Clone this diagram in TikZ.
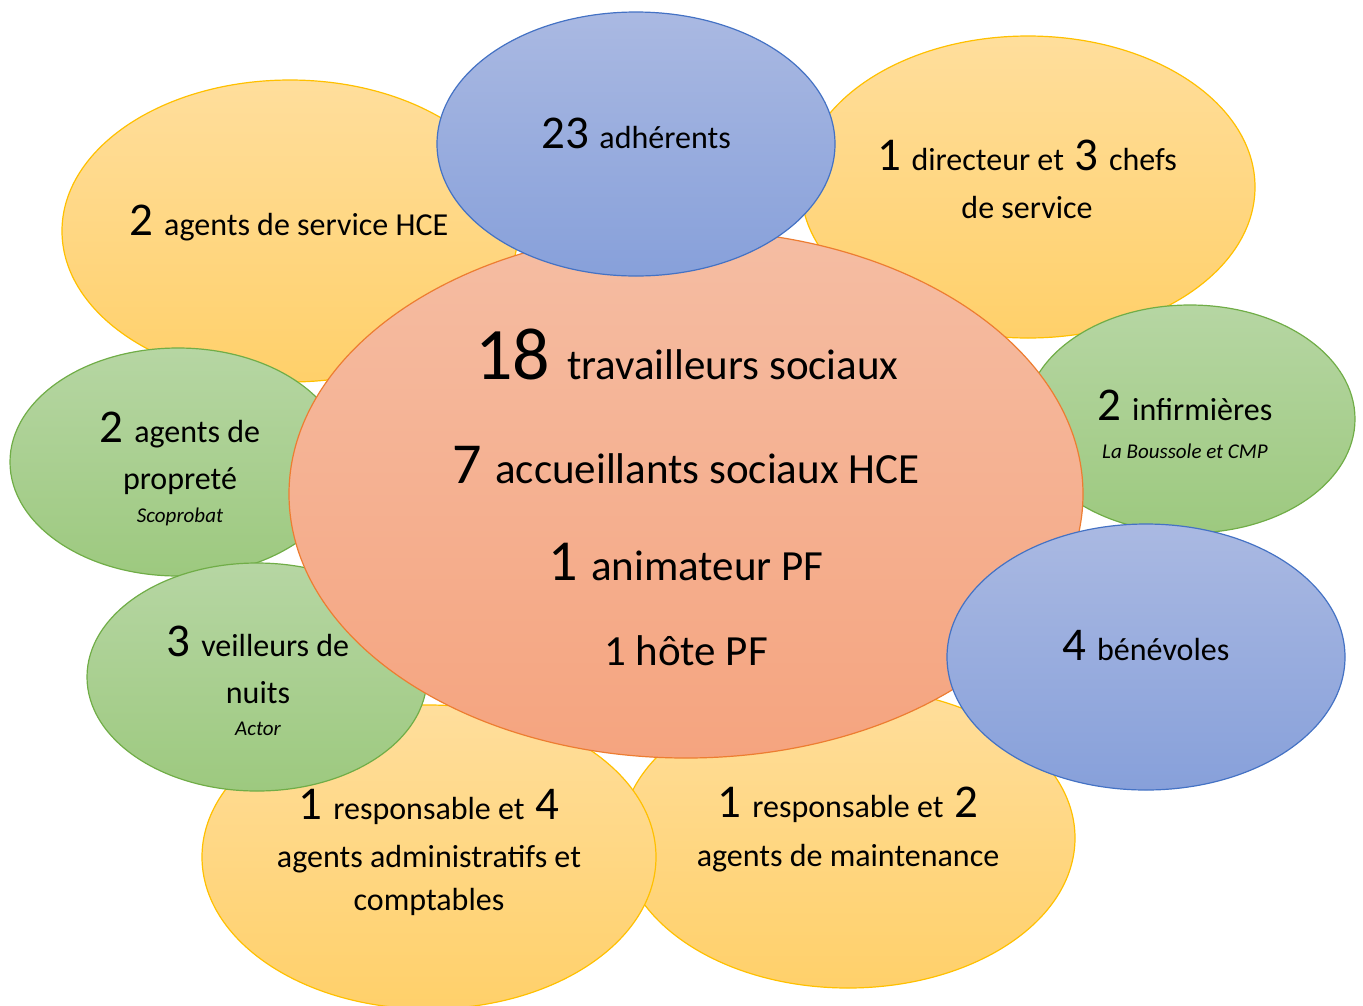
\documentclass[tikz,border=0pt]{standalone}
\usepackage{fontspec}
\setmainfont{Carlito}
\definecolor{yelT}{HTML}{FFDE9C}
\definecolor{yelB}{HTML}{FFD06A}
\definecolor{yelL}{HTML}{FFC000}
\definecolor{grnT}{HTML}{B6D6A3}
\definecolor{grnB}{HTML}{9DC97F}
\definecolor{grnL}{HTML}{70AD47}
\definecolor{bluT}{HTML}{AAB9E2}
\definecolor{bluB}{HTML}{87A0DA}
\definecolor{bluL}{HTML}{4472C4}
\definecolor{salT}{HTML}{F5BDA3}
\definecolor{salB}{HTML}{F5A47F}
\definecolor{salL}{HTML}{ED7D31}
\tikzset{
  yel/.style={top color=yelT,bottom color=yelB,draw=yelL,line width=1.2pt},
  grn/.style={top color=grnT,bottom color=grnB,draw=grnL,line width=1.2pt},
  blu/.style={top color=bluT,bottom color=bluB,draw=bluL,line width=1.2pt},
  sal/.style={top color=salT,bottom color=salB,draw=salL,line width=1.2pt},
  txt/.style={anchor=base,inner sep=0pt,font=\fontsize{32}{38}\selectfont},
  big/.style={anchor=base,inner sep=0pt,font=\fontsize{43}{50}\selectfont},
  sub/.style={anchor=base,inner sep=0pt,font=\fontsize{21}{25}\selectfont\itshape},
}
\newcommand{\nA}[1]{{\fontsize{47}{47}\selectfont #1}}
\newcommand{\nB}[1]{{\fontsize{58}{58}\selectfont #1}}
\newcommand{\nC}[1]{{\fontsize{74}{74}\selectfont #1}}
\begin{document}
\begin{tikzpicture}[x=1pt,y=-1pt]
\useasboundingbox (0,0) rectangle (1363,1005);
% yellows
\path[yel] (290,231) ellipse [x radius=228,y radius=151];
\path[yel] (1028,187) ellipse [x radius=227,y radius=151];
\path[yel] (848,838) ellipse [x radius=227,y radius=150];
\path[yel] (429,857) ellipse [x radius=227,y radius=152];
% greens
\path[grn] (1190,419) ellipse [x radius=165,y radius=114];
\path[grn] (178,462) ellipse [x radius=168,y radius=114];
\path[grn] (257,677) ellipse [x radius=170,y radius=114];
% centre
\path[sal] (686,494) ellipse [x radius=397,y radius=264];
% blues
\path[blu] (636,144) ellipse [x radius=199,y radius=132];
\path[blu] (1146,657) ellipse [x radius=199,y radius=133];
% texts
\node[txt] (t1) at (289,235) {\nA{2\ }agents de service HCE};
\node[txt] (t2) at (636,148) {\nA{23\ }adhérents};
\node[txt] (t3a) at (1027,170) {\nA{1\ }directeur et\nA{\ 3\ }chefs};
\node[txt] (t3b) at (1027,218) {de service};
\node[txt] (t4a) at (1185,420) {\nA{2\ }infirmières};
\node[sub] (t4b) at (1185,458) {La Boussole et CMP};
\node[txt] (t5a) at (180,442) {\nA{2\ }agents de};
\node[txt] (t5b) at (180,489) {propreté};
\node[sub] (t5c) at (180,522) {Scoprobat};
\node[big] (c1) at (687,379) {\nC{18\ }travailleurs sociaux};
\node[big] (c2) at (686,483) {\nB{7\ }accueillants sociaux HCE};
\node[big] (c3) at (686,580) {\nB{1\ }animateur PF};
\node[big] (c4) at (686,665) {1 hôte PF};
\node[txt] (t6) at (1146,660) {\nA{4\ }bénévoles};
\node[txt] (t7a) at (258,656) {\nA{3\ }veilleurs de};
\node[txt] (t7b) at (258,703) {nuits};
\node[sub] (t7c) at (258,735) {Actor};
\node[txt] (t8a) at (429,819) {\nA{1\ }responsable et\nA{\ 4}};
\node[txt] (t8b) at (429,867) {agents administratifs et};
\node[txt] (t8c) at (429,910) {comptables};
\node[txt] (t9a) at (848,817) {\nA{1\ }responsable et\nA{\ 2}};
\node[txt] (t9b) at (848,866) {agents de maintenance};
\end{tikzpicture}
\end{document}
